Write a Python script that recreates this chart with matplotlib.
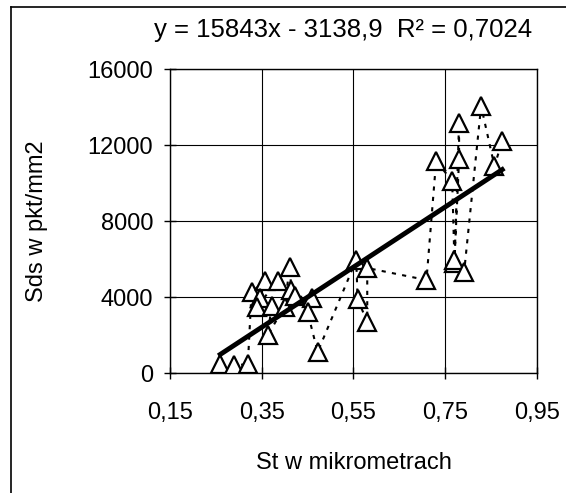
import numpy as np
import matplotlib.pyplot as plt
from matplotlib.lines import Line2D

plt.rcParams['font.family'] = ['Liberation Sans', 'DejaVu Sans']

# St (micrometres) and Sds (pkt/mm2), in measurement order
st = [0.26, 0.29, 0.32, 0.328, 0.357, 0.346, 0.385, 0.339, 0.372, 0.363,
      0.40, 0.411, 0.415, 0.422, 0.459, 0.45, 0.472, 0.556, 0.559, 0.58,
      0.58, 0.709, 0.73, 0.765, 0.77, 0.78, 0.78, 0.77, 0.791, 0.828,
      0.857, 0.874]
sds = [450, 400, 470, 4263, 4842, 3947, 4842, 3473, 3526, 2000,
       3473, 5579, 4368, 4052, 3947, 3210, 1105, 5947, 3895, 2684,
       5526, 4894, 11158, 10105, 5800, 13158, 11263, 5950, 5316, 14052,
       10894, 12210]

slope = 15843
intercept = -3138.9
eq_text = "y = 15843x - 3138,9  R\u00b2 = 0,7024"

x_ticks = [0.15, 0.35, 0.55, 0.75, 0.95]
x_labels = ["0,15", "0,35", "0,55", "0,75", "0,95"]
y_ticks = [0, 4000, 8000, 12000, 16000]

fig = plt.figure(figsize=(5.66, 4.93), dpi=100)
ax = fig.add_axes([0.300, 0.2434, 0.649, 0.6166])

ax.plot(st, sds, linestyle=(0, (2, 3)), color='black', linewidth=1.5,
        marker='^', markersize=13, markerfacecolor='white',
        markeredgecolor='black', markeredgewidth=1.6, zorder=3)

xt = np.array([min(st), max(st)])
ax.plot(xt, slope * xt + intercept, color='black', linewidth=3.5, zorder=4)

ax.set_xlim(0.15, 0.95)
ax.set_ylim(0, 16000)
ax.set_xticks(x_ticks)
ax.set_xticklabels(x_labels)
ax.set_yticks(y_ticks)
ax.grid(True, color='black', linewidth=0.8)
ax.set_axisbelow(True)
for s in ax.spines.values():
    s.set_color('black')
    s.set_linewidth(1.0)
ax.tick_params(direction='inout', length=8, width=1, labelsize=17)
ax.tick_params(axis='x', pad=17)
ax.tick_params(axis='y', pad=8)

ax.set_xlabel("St w mikrometrach", fontsize=17, labelpad=20)
ax.set_ylabel("Sds w pkt/mm2", fontsize=17, labelpad=28)

fig.text(343 / 566, 1 - 30 / 493, eq_text, fontsize=18.5, ha='center', va='center')

# outer chart frame (only left and top edges are visible)
fig.add_artist(Line2D([11 / 566, 11 / 566], [0, 1 - 7 / 493], color='black',
                      linewidth=1.2, transform=fig.transFigure))
fig.add_artist(Line2D([11 / 566, 1], [1 - 7 / 493, 1 - 7 / 493], color='black',
                      linewidth=1.2, transform=fig.transFigure))

fig.savefig("out.png", dpi=100)
